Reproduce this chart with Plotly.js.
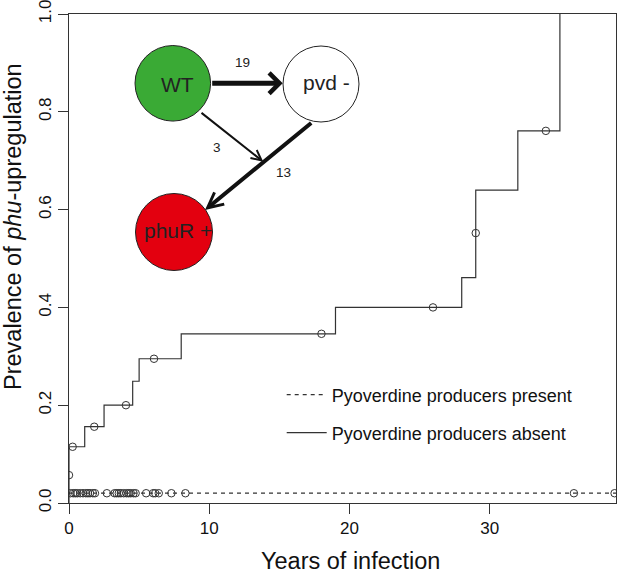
<!DOCTYPE html>
<html>
<head>
<meta charset="utf-8">
<script src="https://cdn.plot.ly/plotly-3.0.1.min.js"></script>
<style>html,body{margin:0;padding:0;background:#fff;}#chart{width:617px;height:575px;}</style>
</head>
<body>
<div id="chart"></div>
<script>
// ---- data ----
var absentX = [0, 0, 1.12, 2.5, 4.54, 5.0, 8.0, 19.0, 28.0, 29.0, 32.0, 35.0];
var absentY = [0, 0.115, 0.156, 0.2, 0.249, 0.295, 0.346, 0.4, 0.461, 0.64, 0.761, 1.0];
var absentCensorX = [0, 0.26, 1.8, 4.06, 6.06, 18.0, 25.95, 29.0, 34.0];
var absentCensorY = [0.057, 0.115, 0.156, 0.2, 0.295, 0.346, 0.4, 0.552, 0.761];
var presentX = [0, 39];
var presentY = [0.02, 0.02];
var presentCensorX = [0.1, 0.3, 0.45, 0.6, 0.8, 1.0, 1.2, 1.35, 1.5, 1.7, 1.85, 2.7,
  3.25, 3.4, 3.55, 3.7, 3.9, 4.1, 4.25, 4.4, 4.6, 4.75, 5.5, 6.0, 6.15, 6.4, 7.3, 8.3, 36.0, 38.9];
var presentCensorY = presentCensorX.map(function(){ return 0.02; });
var xTicks = [0, 10, 20, 30];
var yTicks = [0, 0.2, 0.4, 0.6, 0.8, 1.0];
var yTickLabels = ['0.0', '0.2', '0.4', '0.6', '0.8', '1.0'];
var seriesNames = ['Pyoverdine producers present', 'Pyoverdine producers absent'];
var nodeLabels = ['WT', 'pvd -', 'phuR +'];
var edgeLabels = ['19', '3', '13'];

// ---- layout helpers (pixel -> paper) ----
var L = 69, R = 616, T = 14, B = 503;
function px(x){ return (x - L) / (R - L); }
function py(y){ return (B - y) / (B - T); }
var FONT = 'Liberation Sans, Arial, Helvetica, sans-serif';
var INK = '#222';

var traces = [
  {x: presentX, y: presentY, mode: 'lines', line: {shape: 'hv', color: '#333', width: 1.2, dash: '4px,4px'},
   name: seriesNames[0], legend: 'legend', hoverinfo: 'skip'},
  {x: absentX, y: absentY, mode: 'lines', line: {shape: 'hv', color: '#333', width: 1.2},
   name: seriesNames[1], legend: 'legend2', hoverinfo: 'skip'},
  {x: presentCensorX, y: presentCensorY, mode: 'markers', showlegend: false,
   marker: {symbol: 'circle-open', size: 7.5, color: '#333', line: {width: 1, color: '#333'}}},
  {x: absentCensorX, y: absentCensorY, mode: 'markers', showlegend: false,
   marker: {symbol: 'circle-open', size: 7.5, color: '#333', line: {width: 1, color: '#333'}}}
];

var nodes = [
  {cx: 172.8, cy: 83.3, r: 37.8, fill: '#3aaa35', tx: 177, ty: 84},
  {cx: 321, cy: 84, r: 38, fill: '#ffffff', tx: 326.7, ty: 82},
  {cx: 174, cy: 232, r: 38.5, fill: '#e3000f', tx: 178, ty: 230}
];
var shapes = nodes.map(function(n){
  return {type: 'circle', xref: 'paper', yref: 'paper', xsizemode: 'pixel', ysizemode: 'pixel',
    xanchor: px(n.cx), yanchor: py(n.cy), x0: -n.r, x1: n.r, y0: -n.r, y1: n.r,
    fillcolor: n.fill, line: {color: INK, width: 1}, layer: 'above'};
});

var annotations = [];
nodes.forEach(function(n, i){
  annotations.push({xref: 'paper', yref: 'paper', x: px(n.tx), y: py(n.ty), text: nodeLabels[i],
    showarrow: false, xanchor: 'center', yanchor: 'middle', font: {family: FONT, size: 21, color: INK}});
});
var arrows = [
  {tx: 282.7, ty: 83.3, fx: 210.7, fy: 83.3, w: 5, head: 4, size: 0.8},
  {tx: 263.3, ty: 161.7, fx: 200, fy: 111.7, w: 2, head: 5, size: 1},
  {tx: 205, ty: 210, fx: 312.7, fy: 121.7, w: 4, head: 5, size: 0.75}
];
arrows.forEach(function(a){
  annotations.push({xref: 'paper', yref: 'paper', x: px(a.tx), y: py(a.ty), ax: a.fx - a.tx, ay: a.fy - a.ty,
    text: '', showarrow: true, arrowhead: a.head, arrowwidth: a.w, arrowsize: a.size, arrowcolor: '#111',
    standoff: 0, startstandoff: 0, font: {size: 1}});
});
var edgePos = [[242.7, 62.3], [217.3, 147.7], [283.3, 172.7]];
edgePos.forEach(function(p, i){
  annotations.push({xref: 'paper', yref: 'paper', x: px(p[0]), y: py(p[1]), text: edgeLabels[i],
    showarrow: false, xanchor: 'center', yanchor: 'middle', font: {family: FONT, size: 13.5, color: INK}});
});
// axis titles
annotations.push({xref: 'paper', yref: 'paper', x: px(350), y: py(561), text: 'Years of infection',
  showarrow: false, xanchor: 'center', yanchor: 'middle', borderpad: 0,
  font: {family: FONT, size: 23.5, color: '#111'}});
annotations.push({xref: 'paper', yref: 'paper', x: px(13), y: py(227), text: 'Prevalence of <i>phu</i>-upregulation',
  textangle: -90, showarrow: false, xanchor: 'center', yanchor: 'middle', borderpad: 0,
  font: {family: FONT, size: 23.5, color: '#111'}});

var axisCommon = {ticks: 'outside', ticklen: 10, tickwidth: 1, tickcolor: '#333', showline: true, mirror: true,
  linecolor: '#333', linewidth: 1, showgrid: false, zeroline: false, ticklabeloverflow: 'allow',
  tickfont: {family: FONT, size: 17, color: '#111'}};

var legendCommon = {xanchor: 'left', yanchor: 'middle', bgcolor: 'rgba(0,0,0,0)', borderwidth: 0,
  itemwidth: 40, font: {family: FONT, size: 18, color: '#111'}};

var layout = {
  width: 617, height: 575,
  margin: {l: L, r: 617 - R, t: T, b: 575 - B, pad: 0},
  paper_bgcolor: '#fff', plot_bgcolor: '#fff',
  font: {family: FONT, color: '#111'},
  xaxis: Object.assign({}, axisCommon, {range: [0, 39], tickvals: xTicks}),
  yaxis: Object.assign({}, axisCommon, {range: [0, 1], tickvals: yTicks, ticktext: yTickLabels, tickangle: -90}),
  showlegend: true,
  legend: Object.assign({}, legendCommon, {x: px(281.7), y: py(395)}),
  legend2: Object.assign({}, legendCommon, {x: px(281.7), y: py(433)}),
  shapes: shapes,
  annotations: annotations
};

Plotly.newPlot('chart', traces, layout, {staticPlot: true, displayModeBar: false});
</script>
</body>
</html>
